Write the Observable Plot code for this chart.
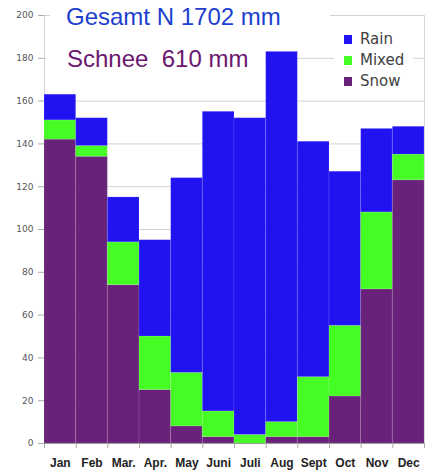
<!DOCTYPE html>
<html><head><meta charset="utf-8">
<script src="https://cdn.jsdelivr.net/npm/d3@7"></script>
<script src="https://cdn.jsdelivr.net/npm/@observablehq/plot@0.6"></script>
<style>
html,body{margin:0;padding:0;background:#fff;}
#wrap{position:relative;width:442px;height:475px;overflow:hidden;}
.ov{position:absolute;background:#fff;white-space:pre;font-family:"Liberation Sans",Arial,sans-serif;}
.leg{position:absolute;background:#fff;font-family:"DejaVu Sans",sans-serif;font-size:15px;color:#404040;}
.leg .row{position:absolute;left:0;height:21px;line-height:21px;}
.leg .sw{position:absolute;left:10px;top:6px;width:8px;height:9px;}
.leg .lb{position:absolute;left:26px;top:0;}
</style></head><body>
<div id="wrap"></div>
<script>
const months = ["Jan","Feb","Mar.","Apr.","May","Juni","Juli","Aug","Sept","Oct","Nov","Dec"];
const series = ["Rain","Mixed","Snow"];
const colors = ["#2112f2","#46fc25","#69227a"];
const snow  = [142,134,74,25,8,3,0,3,3,22,72,123];
const mixed = [9,5,20,25,25,12,4,7,28,33,36,12];
const rain  = [12,13,21,45,91,140,148,173,110,72,39,13];
const yTicks = [0,20,40,60,80,100,120,140,160,180,200];
const titleTotal = "Gesamt N 1702 mm";
const titleSnow = "Schnee  610 mm";

const data = [];
months.forEach((m, i) => {
  data.push({i, month: m, type: "Snow", value: snow[i]});
  data.push({i, month: m, type: "Mixed", value: mixed[i]});
  data.push({i, month: m, type: "Rain", value: rain[i]});
});

const chart = Plot.plot({
  width: 442, height: 475,
  marginLeft: 44, marginRight: 18, marginTop: 15, marginBottom: 32,
  style: {fontFamily: "DejaVu Sans, sans-serif", fontSize: "9px", background: "#fff"},
  x: {type: "linear", domain: [0, 12]},
  y: {domain: [0, 200]},
  color: {domain: series, range: colors},
  marks: [
    Plot.gridY(yTicks, {stroke: "#d2d2d2", strokeOpacity: 1}),
    Plot.ruleX([0], {stroke: "#d0d0d0"}),
    Plot.ruleX([12], {stroke: "#d8d8d8"}),
    Plot.rectY(data, {x1: d => d.i, x2: d => d.i + 1, y: "value", fill: "type",
      stroke: "#ffffff", strokeOpacity: 0.12, strokeWidth: 1}),
    Plot.ruleY([0], {stroke: "#9a9a9a"}),
    Plot.axisY(yTicks, {label: null, tickSize: 6, tickPadding: 5, fontSize: 9, fill: "#555", stroke: "#aaa"}),
    Plot.axisX(d3.range(13), {label: null, tickSize: 5, tickFormat: () => "", stroke: "#aaa"}),
    Plot.axisX(months.map((m, i) => i + 0.5), {label: null, tickSize: 0, tickPadding: 15,
      tickFormat: d => months[Math.floor(d)], fontSize: 12, fontWeight: "bold", fill: "#222",
      fontFamily: "Liberation Sans, Arial, sans-serif"})
  ]
});

const wrap = document.getElementById("wrap");
wrap.appendChild(chart);

// title overlays
const t1 = document.createElement("div");
t1.className = "ov";
Object.assign(t1.style, {left: "50px", top: "0px", width: "280px", height: "38px"});
const s1 = document.createElement("div");
s1.textContent = titleTotal;
Object.assign(s1.style, {position: "absolute", left: "16px", top: "5px", fontSize: "24px", lineHeight: "24px", color: "#1d3fce"});
t1.appendChild(s1);
wrap.appendChild(t1);

const t2 = document.createElement("div");
t2.className = "ov";
Object.assign(t2.style, {left: "46px", top: "38px", width: "219px", height: "38px"});
const s2 = document.createElement("div");
s2.textContent = titleSnow;
Object.assign(s2.style, {position: "absolute", left: "21px", top: "9px", fontSize: "24px", lineHeight: "24px", color: "#6b176f"});
t2.appendChild(s2);
wrap.appendChild(t2);

// legend
const leg = document.createElement("div");
leg.className = "leg";
Object.assign(leg.style, {left: "334px", top: "28px", width: "79px", height: "66px"});
series.forEach((s, k) => {
  const row = document.createElement("div");
  row.className = "row";
  row.style.top = (1 + k * 21) + "px";
  const sw = document.createElement("div");
  sw.className = "sw";
  sw.style.background = colors[k];
  const lb = document.createElement("div");
  lb.className = "lb";
  lb.textContent = s;
  row.appendChild(sw); row.appendChild(lb);
  leg.appendChild(row);
});
wrap.appendChild(leg);
</script>
</body></html>
